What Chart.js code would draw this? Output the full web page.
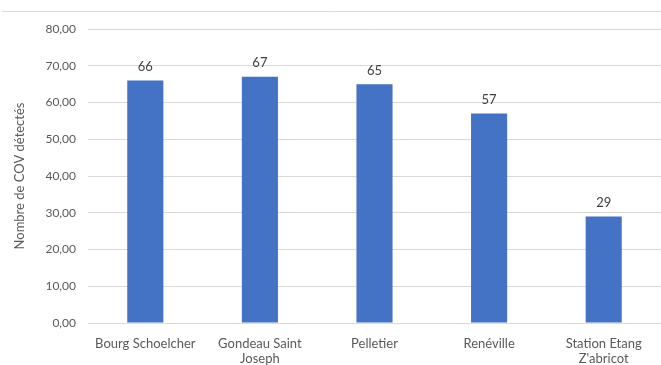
<!DOCTYPE html>
<html>
<head>
<meta charset="utf-8">
<script src="https://cdn.jsdelivr.net/npm/chart.js@4.4.1/dist/chart.umd.min.js"></script>
<style>
  html, body { margin: 0; padding: 0; background: #fff; }
  #wrap { position: relative; width: 661px; height: 365px; }
</style>
</head>
<body>
<div id="wrap"><canvas id="covChart" width="661" height="365"></canvas></div>
<script>
const stations = [['Bourg Schoelcher'], ['Gondeau Saint', 'Joseph'], ['Pelletier'], ['Renéville'], ['Station Etang', "Z'abricot"]];
const covCounts = [66, 67, 65, 57, 29];
const yTicks = [0, 10, 20, 30, 40, 50, 60, 70, 80];

// writes the value above each bar, and the thin frame line at the top
const barLabels = {
    id: 'barLabels',
    beforeDraw(chart) {
        const ctx = chart.ctx;
        ctx.save();
        ctx.strokeStyle = '#d9d9d9';
        ctx.lineWidth = 1;
        ctx.beginPath();
        ctx.moveTo(2, 11.5);
        ctx.lineTo(chart.width, 11.5);
        ctx.stroke();
        ctx.restore();
    },
    afterDatasetsDraw(chart) {
        const ctx = chart.ctx;
        const meta = chart.getDatasetMeta(0);
        ctx.save();
        ctx.font = '13px Lato';
        ctx.fillStyle = '#404040';
        ctx.textAlign = 'center';
        ctx.textBaseline = 'bottom';
        meta.data.forEach((bar, i) => {
            ctx.fillText(String(covCounts[i]), bar.x, bar.y - 7);
        });
        ctx.restore();
    }
};

const ctx = document.getElementById('covChart').getContext('2d');
const myChart = new Chart(ctx, {
    type: 'bar',
    data: {
        labels: stations,
        datasets: [{
            data: covCounts,
            backgroundColor: '#4472c4',
            categoryPercentage: 1,
            barPercentage: 0.315
        }]
    },
    options: {
        responsive: false,
        animation: false,
        layout: { padding: { top: 29, right: 0, left: 0, bottom: 0 } },
        plugins: { legend: { display: false }, tooltip: { enabled: false } },
        scales: {
            x: {
                grid: { display: false },
                border: { color: '#d9d9d9' },
                ticks: { color: '#595959', font: { family: 'Lato', size: 13, lineHeight: 1.15 }, maxRotation: 0, padding: 5 },
                afterFit: scale => { scale.height = 42; }
            },
            y: {
                min: 0,
                max: 80,
                afterBuildTicks: scale => { scale.ticks = yTicks.map(v => ({ value: v })); },
                grid: { color: '#d9d9d9', drawTicks: false },
                border: { display: false },
                ticks: {
                    color: '#595959',
                    font: { family: 'Lato', size: 12 },
                    padding: 12,
                    callback: v => v.toFixed(2).replace('.', ',')
                },
                title: {
                    display: true,
                    text: 'Nombre de COV détectés',
                    color: '#595959',
                    font: { family: 'Lato', size: 13 },
                    padding: { top: 12, bottom: 4 }
                },
                afterFit: scale => { scale.width = 88; }
            }
        }
    },
    plugins: [barLabels]
});
</script>
</body>
</html>
